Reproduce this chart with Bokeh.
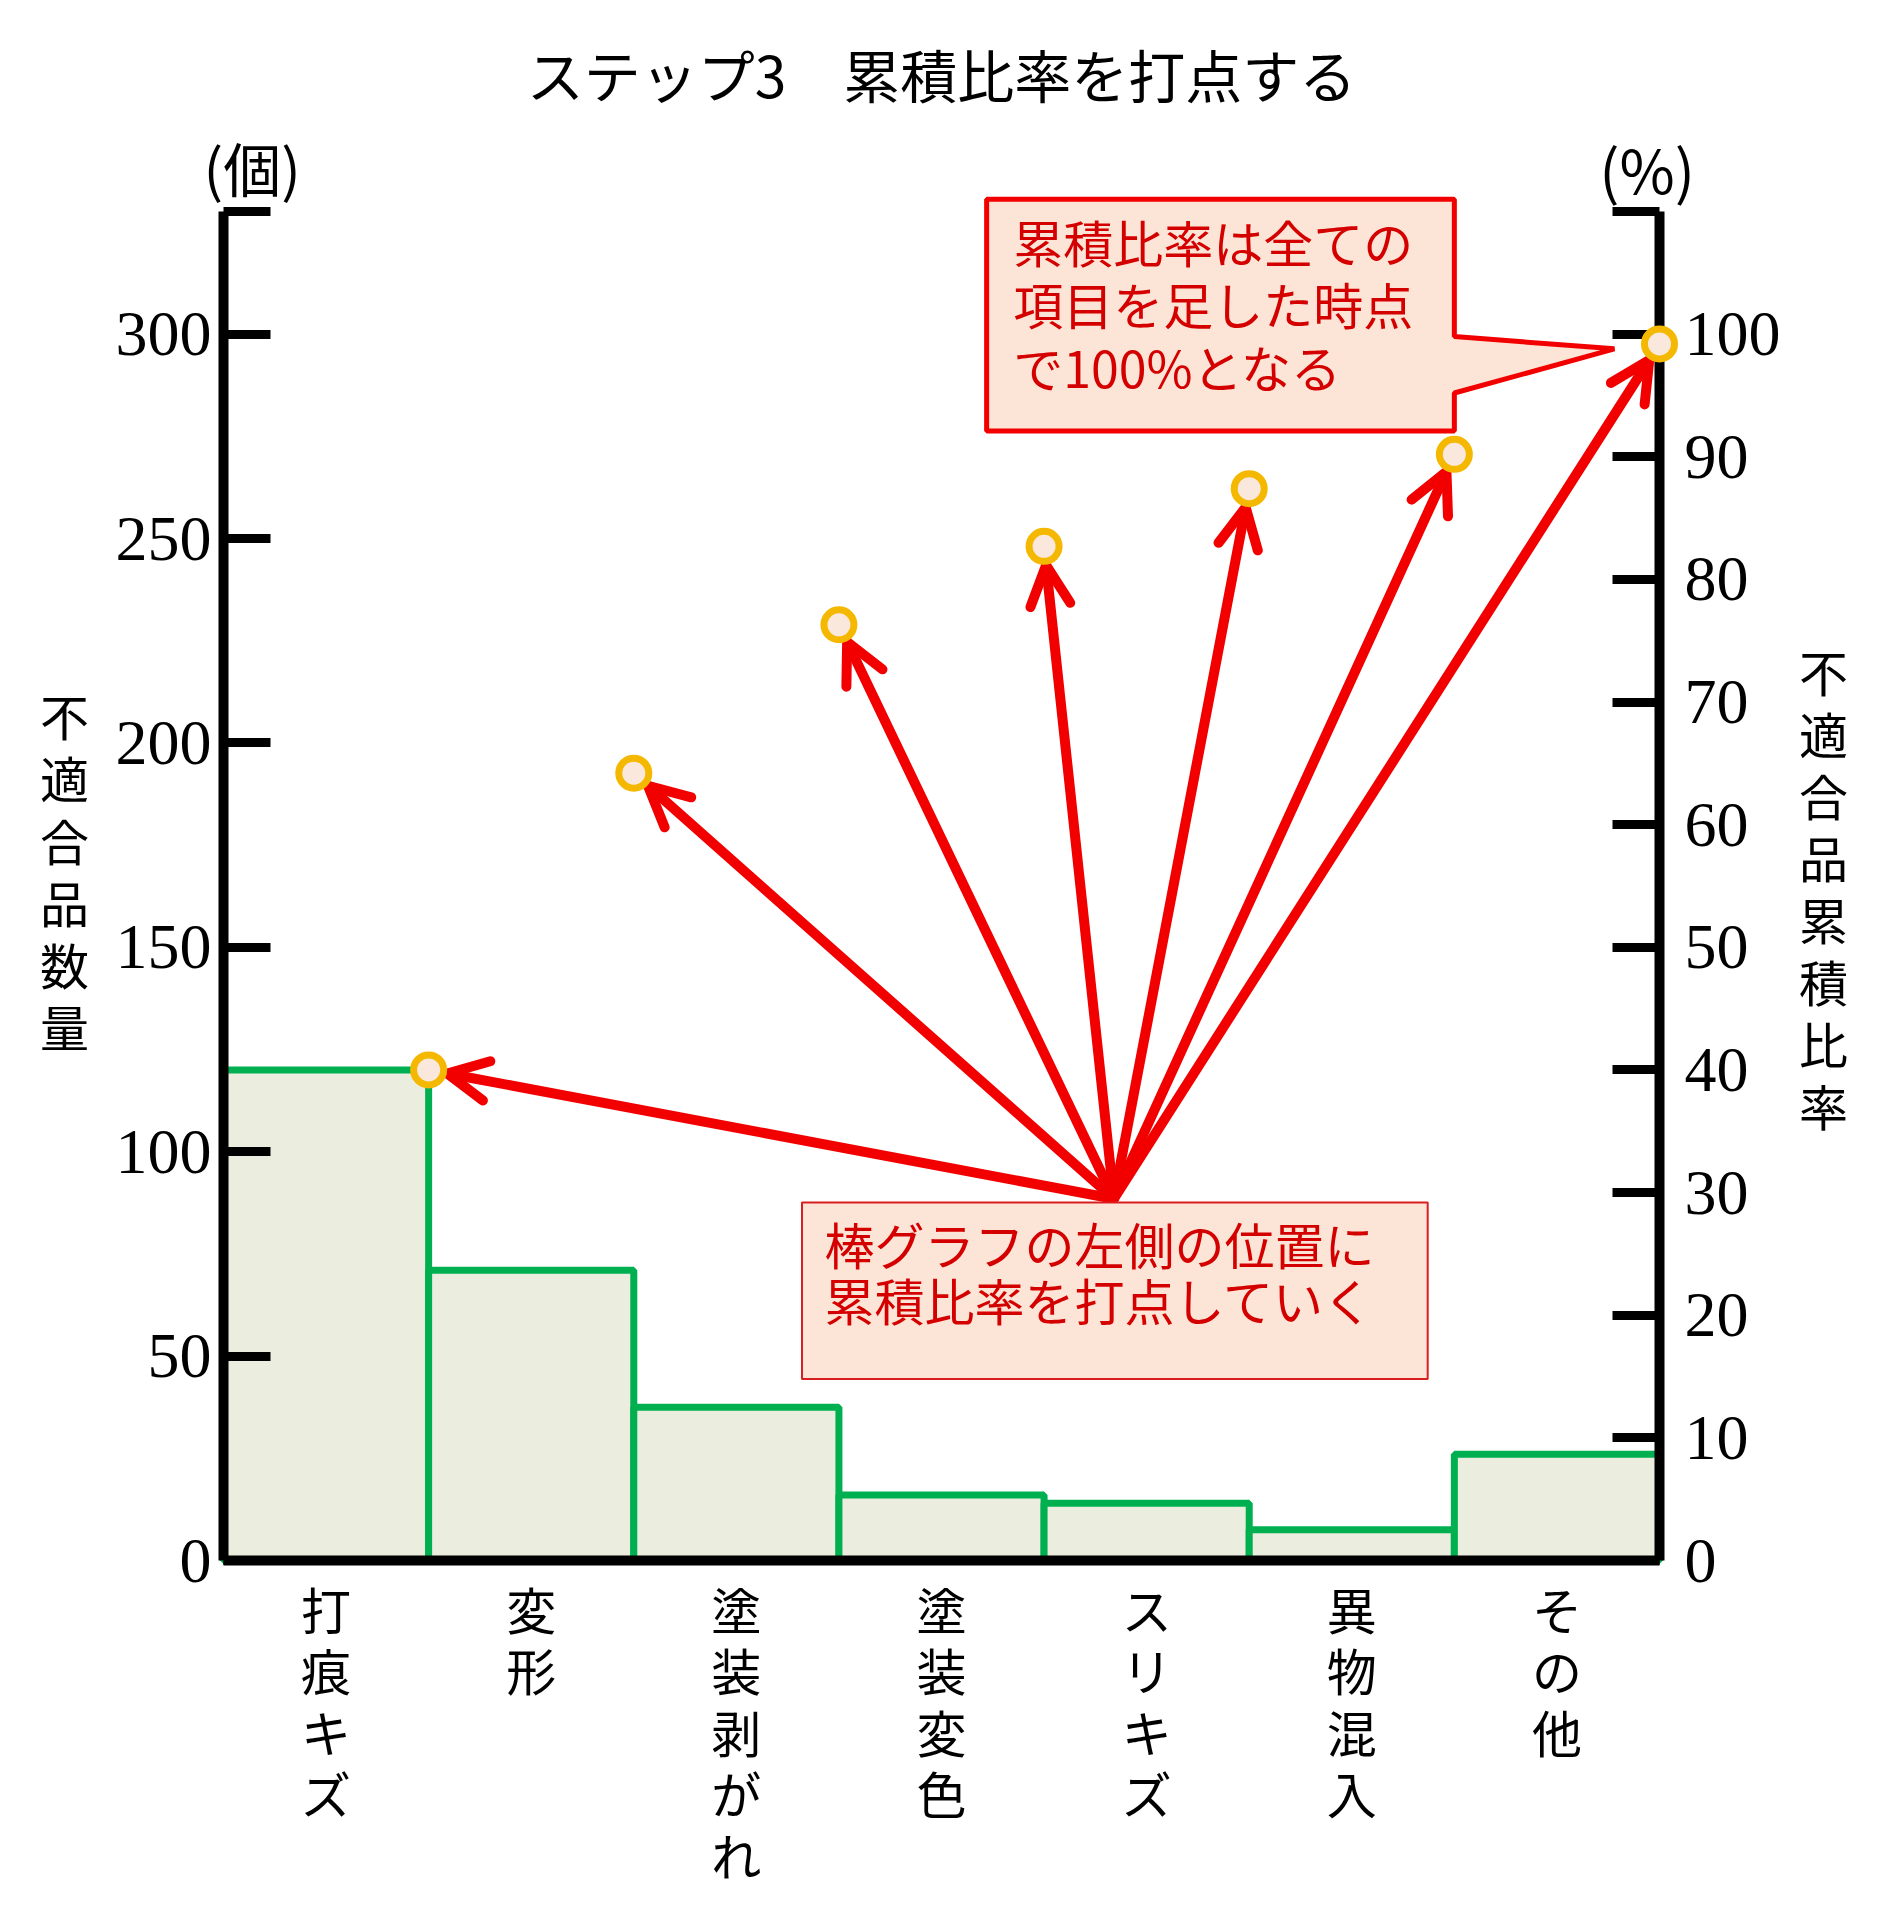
import math
from bokeh.plotting import figure
from bokeh.models import (Range1d, LinearAxis, FixedTicker, Label, Arrow, OpenHead,
                          BoxAnnotation, PolyAnnotation)
from bokeh.embed import file_html
from bokeh.resources import INLINE

# ---------------- data ----------------
categories = ["打痕キズ", "変形", "塗装剥がれ", "塗装変色", "スリキズ", "異物混入", "その他"]
counts = [120, 71, 37.5, 16, 14, 7.5, 26]
cum_pct = [40.0, 64.2, 76.3, 82.7, 87.4, 90.2, 99.2]
count_ticks = [0, 50, 100, 150, 200, 250, 300, 330]
count_tick_labels = ["0", "50", "100", "150", "200", "250", "300", ""]
pct_ticks = [0, 10, 20, 30, 40, 50, 60, 70, 80, 90, 100, 110]
pct_tick_labels = ["0", "10", "20", "30", "40", "50", "60", "70", "80", "90", "100", ""]

title_text = "ステップ3　累積比率を打点する"
left_title = "不適合品数量"
right_title = "不適合品累積比率"
left_unit = "(個)"
right_unit = "(%)"
note_bottom = ["棒グラフの左側の位置に", "累積比率を打点していく"]
note_top = ["累積比率は全ての", "項目を足した時点", "で100%となる"]

# ---------------- styles / layout ----------------
JP = "Noto Sans CJK JP"
NUM = "Liberation Serif"
RED = "#F20000"
TXT_RED = "#D40000"
PEACH = "#FCE4D6"
BAR_FILL = "#EBEEDF"
BAR_LINE = "#00B050"
GOLD = "#F5B800"
CJK_H = 1.448  # font-metric height of Noto Sans CJK (em)

N = len(categories)
Y_MAX = 330
PCT_MAX = 110
K = Y_MAX / PCT_MAX  # count units per percent

FIG_W, FIG_H = 1875, 1900
AX_L, AX_R, AX_B, AX_T = 223, 1659, 1560, 211   # pixel positions of the axes
SX = (AX_R - AX_L) / N
SY = (AX_B - AX_T) / Y_MAX

x_range = Range1d(-AX_L / SX, (FIG_W - AX_L) / SX)
y_range = Range1d(-(FIG_H - AX_B) / SY, AX_B / SY)

p = figure(width=FIG_W, height=FIG_H, output_backend="svg", toolbar_location=None,
           x_range=x_range, y_range=y_range, min_border=0, title=None)
p.extra_y_ranges = {"pct": Range1d(y_range.start / K, y_range.end / K)}
p.outline_line_color = None
p.xgrid.visible = False
p.ygrid.visible = False
p.background_fill_color = "white"
p.border_fill_color = "white"

# ---------- axes ----------
ya = p.yaxis[0]
ya.fixed_location = 0
ya.bounds = (0, Y_MAX)
ya.ticker = FixedTicker(ticks=count_ticks)
ya.major_label_overrides = {t: l for t, l in zip(count_ticks, count_tick_labels)}
ya.axis_line_width = 10
ya.axis_line_color = "black"
ya.major_tick_in = 47
ya.major_tick_out = 0
ya.major_tick_line_width = 9
ya.minor_tick_line_color = None
ya.major_label_text_font = NUM
ya.major_label_text_font_size = "64px"
ya.major_label_text_color = "black"
ya.major_label_standoff = 12

ra = LinearAxis(y_range_name="pct", fixed_location=N, bounds=(0, PCT_MAX))
ra.ticker = FixedTicker(ticks=pct_ticks)
ra.major_label_overrides = {t: l for t, l in zip(pct_ticks, pct_tick_labels)}
ra.axis_line_width = 10
ra.axis_line_color = "black"
ra.major_tick_in = 47
ra.major_tick_out = 0
ra.major_tick_line_width = 9
ra.minor_tick_line_color = None
ra.major_label_text_font = NUM
ra.major_label_text_font_size = "64px"
ra.major_label_text_color = "black"
ra.major_label_standoff = 25
p.add_layout(ra, "right")

xa = p.xaxis[0]
xa.fixed_location = 0
xa.bounds = (0, N)
centers = [i + 0.5 for i in range(N)]
xa.ticker = FixedTicker(ticks=centers)
xa.major_label_overrides = {c: "\n".join(list(n)) for c, n in zip(centers, categories)}
xa.axis_line_width = 10
xa.axis_line_color = "black"
xa.major_tick_line_color = None
xa.minor_tick_line_color = None
xa.major_tick_in = 0
xa.major_tick_out = 0
xa.major_label_standoff = 11
xa.major_label_text_font = JP
xa.major_label_text_font_size = "50px"
xa.major_label_text_line_height = 62 / (50 * CJK_H)
xa.major_label_text_color = "black"

# ---------- bars ----------
p.vbar(x=centers, top=counts, bottom=0, width=1.0, fill_color=BAR_FILL,
       line_color=BAR_LINE, line_width=7)

# ---------- arrows ----------
start_x, start_pct = 4.34, 29.5
edges = list(range(1, N + 1))
for xe, ye in zip(edges, cum_pct):
    dx = (xe - start_x) * SX
    dy = (ye - start_pct) * K * SY
    L = math.hypot(dx, dy)
    shrink = 19.0
    ex = xe - dx / L * shrink / SX
    ey = ye * K - dy / L * shrink / SY
    p.add_layout(Arrow(end=OpenHead(size=40, line_color=RED, line_width=10, line_cap="round",
                                    line_join="round"),
                       x_start=start_x, y_start=start_pct * K, x_end=ex, y_end=ey,
                       line_color=RED, line_width=10, line_cap="round"))

# ---------- callout boxes ----------
p.add_layout(BoxAnnotation(left=2.82, right=5.87, top=29.2 * K, bottom=14.8 * K,
                           fill_color=PEACH, fill_alpha=1.0, line_color="#D81E1E",
                           line_width=2, line_alpha=1.0))
p.add_layout(Label(x=2.93, y=23.6 * K, text="\n".join(note_bottom), text_font=JP,
                   text_font_size="50px", text_color=TXT_RED, text_align="left",
                   text_baseline="middle", text_line_height=57 / (50 * CJK_H)))

bx = [3.72, 6.0, 6.0, 6.78, 6.0, 6.0, 3.72]
by = [111.0, 111.0, 99.8, 98.8, 95.2, 92.1, 92.1]
p.add_layout(PolyAnnotation(xs=bx, ys=[v * K for v in by], fill_color=PEACH, fill_alpha=1.0,
                            line_color=RED, line_width=5, line_alpha=1.0))
p.add_layout(Label(x=3.85, y=102.5 * K, text="\n".join(note_top), text_font=JP,
                   text_font_size="50px", text_color=TXT_RED, text_align="left",
                   text_baseline="middle", text_line_height=63 / (50 * CJK_H)))

# ---------- markers (drawn above axes and arrows) ----------
p.scatter(x=edges, y=cum_pct, y_range_name="pct", marker="circle", size=30,
          fill_color="#FBE8DD", line_color=GOLD, line_width=7, level="overlay")

# ---------- titles / axis labels ----------
p.add_layout(Label(x=N / 2, y=121.3 * K, text=title_text, text_font=JP, text_font_size="57px",
                   text_color="black", text_align="center", text_baseline="middle"))
p.add_layout(Label(x=0.14, y=113.6 * K, text=left_unit, text_font=JP, text_font_size="58px",
                   text_color="black", text_align="center", text_baseline="middle"))
p.add_layout(Label(x=6.94, y=113.6 * K, text=right_unit, text_font=JP, text_font_size="60px",
                   text_color="black", text_align="center", text_baseline="middle"))
p.add_layout(Label(x=-0.775, y=56.3 * K, text="\n".join(list(left_title)), text_font=JP,
                   text_font_size="49px", text_color="black", text_align="center",
                   text_baseline="middle", text_line_height=62 / (49 * CJK_H)))
p.add_layout(Label(x=7.80, y=54.9 * K, text="\n".join(list(right_title)), text_font=JP,
                   text_font_size="49px", text_color="black", text_align="center",
                   text_baseline="middle", text_line_height=62 / (49 * CJK_H)))

open("out.html", "w").write(file_html(p, INLINE))
